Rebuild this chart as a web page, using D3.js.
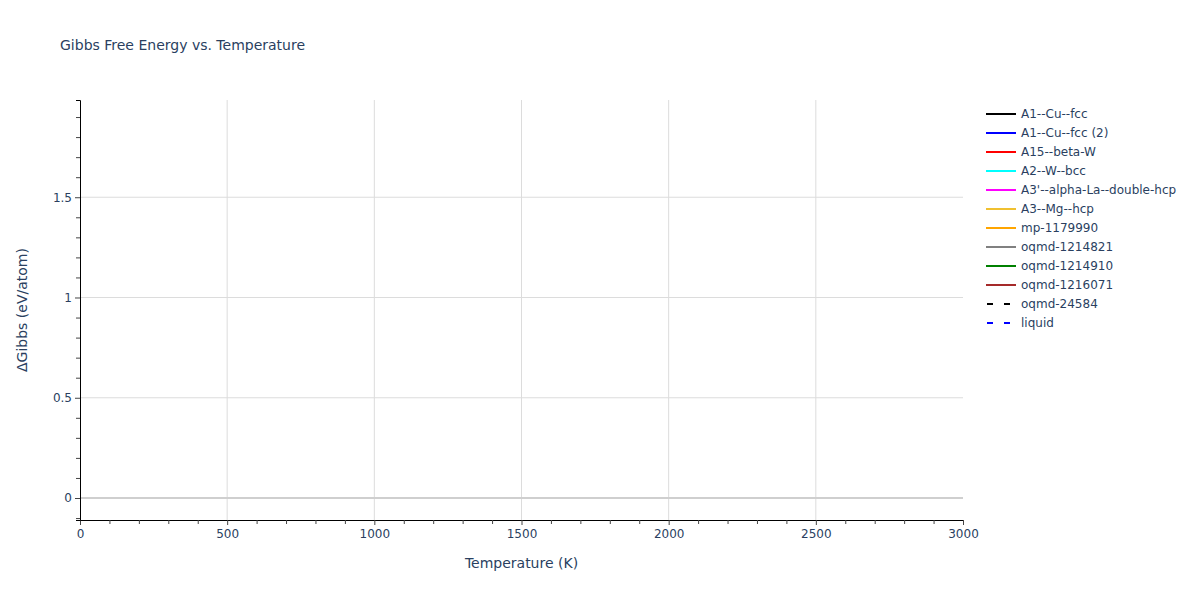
<!DOCTYPE html>
<html><head><meta charset="utf-8">
<script src="https://cdn.jsdelivr.net/npm/d3@7"></script>
<style>body{margin:0;background:#fff}svg{font-family:"DejaVu Sans",Verdana,sans-serif}</style>
</head><body><div id="chart"></div>
<script>
const seriesNames = ["A1--Cu--fcc","A1--Cu--fcc (2)","A15--beta-W","A2--W--bcc","A3'--alpha-La--double-hcp","A3--Mg--hcp","mp-1179990","oqmd-1214821","oqmd-1214910","oqmd-1216071","oqmd-24584","liquid"];
const seriesColors = ["black","blue","red","cyan","magenta","#f0c030","orange","gray","green","brown","black","blue"];
const seriesDash = [false,false,false,false,false,false,false,false,false,false,true,true];
// No data points are visible in the reference: every series is empty.
const seriesValues = [[],[],[],[],[],[],[],[],[],[],[],[]];
const xTicks = [0,500,1000,1500,2000,2500,3000];
const yTicks = [0,0.5,1,1.5];

const W=1200,H=600, L=80,R=963,T=100,B=520;
const FONT='"DejaVu Sans", Verdana, sans-serif';
const svg=d3.select("#chart").append("svg").attr("width",W).attr("height",H);
const x=d3.scaleLinear().domain([0,3000]).range([L,R]);
const y=d3.scaleLinear().domain([-0.1097,1.985]).range([B,T]);
const txt="#2a3f5f";

svg.append("text").attr("x",60).attr("y",50).attr("font-size",14).attr("fill",txt).text("Gibbs Free Energy vs. Temperature");

const g=svg.append("g");
// grid
g.selectAll(".gx").data(xTicks.filter(d=>d>0&&d<3000)).enter().append("line")
 .attr("x1",d=>x(d)).attr("x2",d=>x(d)).attr("y1",T).attr("y2",B).attr("stroke","#dcdcdc").attr("stroke-width",1);
g.selectAll(".gy").data(yTicks.filter(d=>d!==0)).enter().append("line")
 .attr("x1",L).attr("x2",R).attr("y1",d=>y(d)).attr("y2",d=>y(d)).attr("stroke","#dcdcdc").attr("stroke-width",1);
// zero line
g.append("line").attr("x1",L).attr("x2",R).attr("y1",y(0)).attr("y2",y(0)).attr("stroke","#cfcfcf").attr("stroke-width",2);

// series
const line=d3.line().x(d=>x(d[0])).y(d=>y(d[1]));
seriesValues.forEach((v,i)=>{
  g.append("path").datum(v).attr("d",line).attr("fill","none").attr("stroke",seriesColors[i]).attr("stroke-width",2)
   .attr("stroke-dasharray",seriesDash[i]?"6,6":null);
});

// axes
const xAxis=svg.append("g").attr("transform",`translate(0,${B})`)
 .call(d3.axisBottom(x).tickValues(d3.range(0,3001,100)).tickSize(4).tickFormat(d=>xTicks.includes(d)?d:""));
const yAxis=svg.append("g").attr("transform",`translate(${L},0)`)
 .call(d3.axisLeft(y).tickValues(d3.range(-0.1,1.95,0.1).map(v=>Math.round(v*10)/10)).tickSize(4).tickFormat(d=>yTicks.includes(d)?d:""));
[xAxis,yAxis].forEach(a=>{
  a.select(".domain").attr("stroke","#000").attr("stroke-width",1);
  a.selectAll(".tick line").attr("stroke","#444");
  a.selectAll(".tick text").attr("fill",txt).attr("font-size",12).attr("font-family",FONT);
});
xAxis.selectAll(".tick").filter(d=>xTicks.includes(d)).select("line").attr("y2",5);
yAxis.selectAll(".tick").filter(d=>yTicks.includes(d)).select("line").attr("x2",-5);
xAxis.selectAll(".tick text").attr("dy","1em").attr("y",6);
yAxis.selectAll(".tick text").attr("x",-8);

svg.append("text").attr("x",(L+R)/2).attr("y",568).attr("text-anchor","middle").attr("font-size",14).attr("fill",txt).text("Temperature (K)");
svg.append("text").attr("transform",`translate(27,${(T+B)/2}) rotate(-90)`).attr("text-anchor","middle").attr("font-size",14).attr("fill",txt).text("ΔGibbs (eV/atom)");

// legend
const lg=svg.append("g");
seriesNames.forEach((n,i)=>{
  const yy=114+i*19;
  lg.append("line").attr("x1",986).attr("x2",1016).attr("y1",yy).attr("y2",yy).attr("stroke",seriesColors[i]).attr("stroke-width",2)
    .attr("stroke-dasharray",seriesDash[i]?"6,11":null).attr("stroke-dashoffset",seriesDash[i]?-1:null);
  lg.append("text").attr("x",1021).attr("y",yy+4).attr("font-size",12).attr("fill",txt).text(n);
});
</script></body></html>
